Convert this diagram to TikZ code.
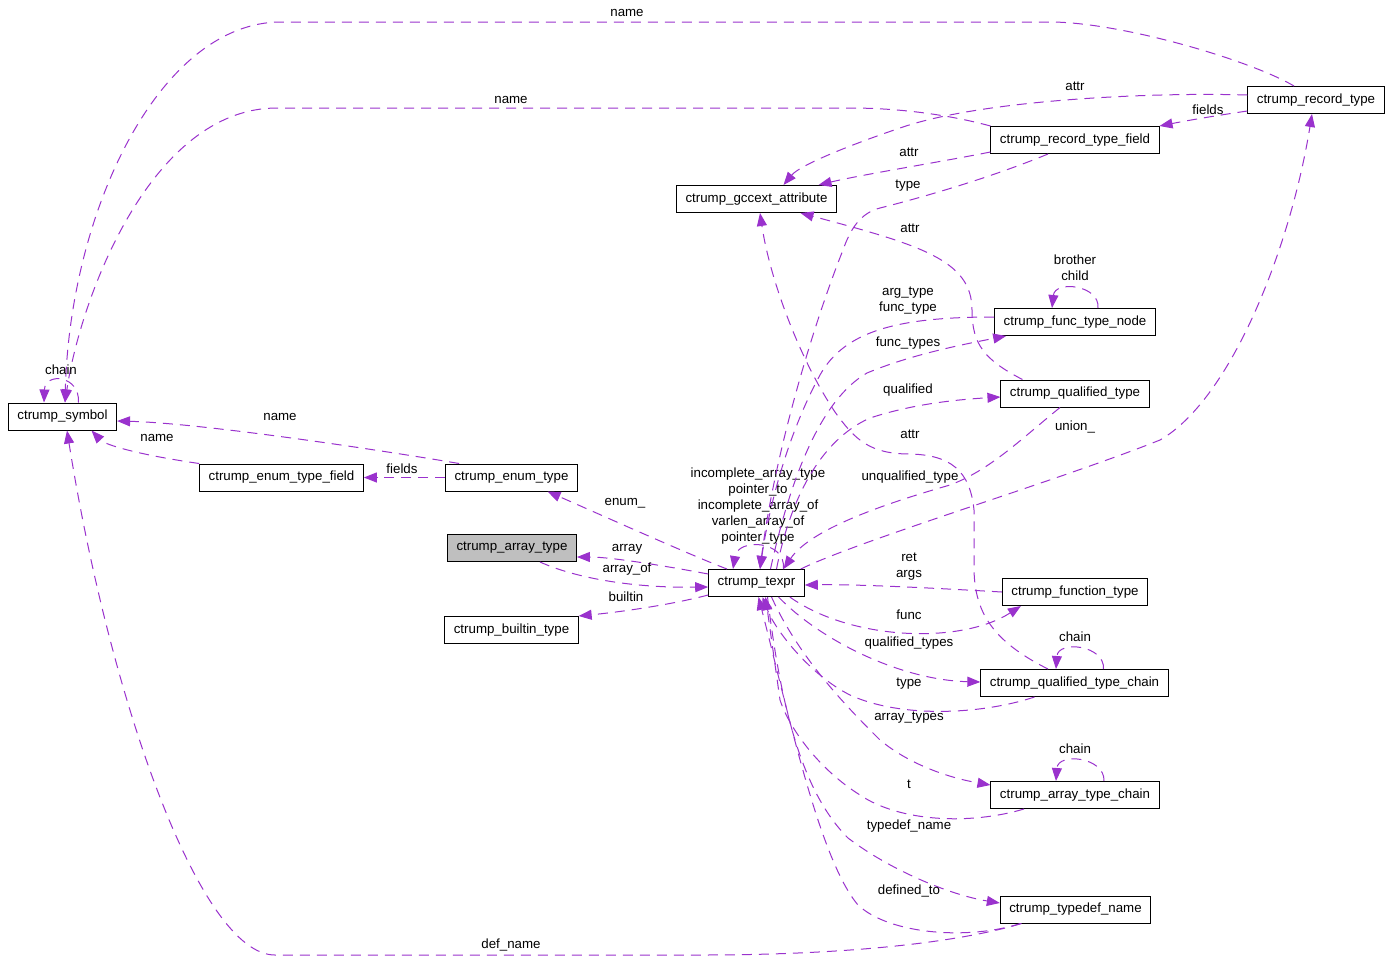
\documentclass[tikz,border=0pt]{standalone}
\usepackage{fontspec}
\setmainfont{Liberation Sans}
\usetikzlibrary{arrows.meta}
\definecolor{orchid}{HTML}{9A32CD}
\tikzstyle{cls} = [draw, rectangle, line width=1pt, minimum height=27pt, inner xsep=9pt, inner ysep=0pt, font=\fontsize{13.3}{16}\selectfont]
\tikzstyle{main} = [cls, fill=gray!50]
\tikzstyle{use} = [draw=orchid, line width=1pt, dash pattern=on 10pt off 7pt, ->]
\tikzstyle{lbl} = [align=center, inner sep=0pt, font=\fontsize{13.3}{16}\selectfont]

\begin{document}
\begin{tikzpicture}[x=1pt, y=-1pt, >={Triangle[length=13pt,width=10pt]}]
\useasboundingbox (0,0) rectangle (1389,959);

\node [cls] (sym) at (62.5,416.5) {ctrump\_symbol};
\node [cls] (rt) at (1316,100) {ctrump\_record\_type};
\node [cls] (rtf) at (1075,140) {ctrump\_record\_type\_field};
\node [cls] (gcc) at (756.5,199) {ctrump\_gccext\_attribute};
\node [cls] (ftn) at (1075,322) {ctrump\_func\_type\_node};
\node [cls] (qt) at (1075,393.5) {ctrump\_qualified\_type};
\node [cls] (eft) at (281.5,477.5) {ctrump\_enum\_type\_field};
\node [cls] (et) at (511.5,477.5) {ctrump\_enum\_type};
\node [main] (at) at (512,548) {ctrump\_array\_type};
\node [cls] (tx) at (756.5,583) {ctrump\_texpr};
\node [cls] (bt) at (511.5,630) {ctrump\_builtin\_type};
\node [cls] (ft) at (1075,592) {ctrump\_function\_type};
\node [cls] (qtc) at (1074.5,683) {ctrump\_qualified\_type\_chain};
\node [cls] (atc) at (1075,795) {ctrump\_array\_type\_chain};
\node [cls] (tdn) at (1075.5,909.5) {ctrump\_typedef\_name};

\draw [use] ([xshift=-22pt]rt.north) .. controls (1250,60) and (1120,22) .. (1050,22) -- (281,22) .. controls (160,22) and (70,210) .. ([xshift=2.5pt]sym.north) node [lbl] at (627,13) {name};
\draw [use] (rtf.north west) .. controls (950,115) and (900,108) .. (850,108) -- (277,108) .. controls (150,108) and (80,300) .. ([xshift=2.5pt]sym.north) node [lbl] at (511,100) {name};
\draw [use] ([xshift=16pt]sym.north) .. controls (80,375) and (45,372) .. ([xshift=-18.5pt]sym.north) node [lbl] at (61,370) {chain};
\draw [use] ([xshift=14pt]et.north west) .. controls (380,450) and (200,423) .. ([yshift=-4.5pt]sym.east) node [lbl] at (280,417) {name};
\draw [use] (eft.north west) .. controls (140,455) and (105,445) .. ([xshift=29pt]sym.south) node [lbl] at (157,438) {name};
\draw [use] ([xshift=-54pt]tdn.south) .. controls (960,942) and (850,955) .. (700,955) -- (275,955) .. controls (200,955) and (110,700) .. ([xshift=4.5pt]sym.south) node [lbl] at (511,945) {def\_name};
\draw [use] (et.west) -- (eft.east) node [lbl] at (402,469) {fields};

\draw [use] ([xshift=-29.5pt]tx.north) .. controls (690,555) and (590,510) .. ([xshift=36pt]et.south) node [lbl] at (625,503) {enum\_};
\draw [use] ([yshift=9pt]tx.west) .. controls (660,565) and (610,557) .. ([yshift=-9pt]at.east) node [lbl] at (627,549) {array};
\draw [use] ([xshift=28pt]at.south) .. controls (580,580) and (640,588) .. ([yshift=-4pt]tx.west) node [lbl] at (627,569) {array\_of};
\draw [use] ([yshift=-12pt]tx.west) .. controls (670,605) and (620,612) .. (bt.north east) node [lbl] at (626,597) {builtin};
\draw [use] ([xshift=27pt]tx.north) .. controls (786,540) and (738,538) .. ([xshift=-23.5pt]tx.north) node [lbl] at (758,506) {incomplete\_array\_type\\pointer\_to\\incomplete\_array\_of\\varlen\_array\_of\\pointer\_type};

\draw [use] ([yshift=5pt]rt.west) .. controls (1150,92) and (980,100) .. (900,128) .. controls (850,145) and (800,165) .. ([xshift=27pt]gcc.north) node [lbl] at (1075,86) {attr};
\draw [use] ([yshift=-11pt]rt.west) .. controls (1220,115) and (1190,120) .. (rtf.north east) node [lbl] at (1208,110) {fields};
\draw [use] ([yshift=-12pt]rtf.west) .. controls (940,162) and (860,175) .. ([xshift=62pt]gcc.north) node [lbl] at (909,152) {attr};
\draw [use] ([xshift=-27pt]rtf.south) .. controls (990,178) and (920,198) .. (880,208) .. controls (860,213) and (850,230) .. (843,250) .. controls (815,320) and (775,450) .. ([xshift=3.5pt]tx.north) node [lbl] at (908,186) {type};
\draw [use] ([xshift=22pt]qt.north west) .. controls (985,360) and (972,345) .. (972,310) .. controls (972,260) and (920,245) .. ([xshift=44pt]gcc.south) node [lbl] at (910,228) {attr};
\draw [use] ([yshift=5pt]ftn.west) .. controls (900,317) and (845,330) .. (820,375) .. controls (790,430) and (770,500) .. ([xshift=3.5pt]tx.north) node [lbl] at (908,301) {arg\_type\\func\_type};
\draw [use] ([xshift=14pt]tx.north) .. controls (790,480) and (820,400) .. (867,373) .. controls (910,355) and (960,345) .. ([xshift=12pt]ftn.south west) node [lbl] at (908,343) {func\_types};
\draw [use] ([xshift=20pt]tx.north) .. controls (790,500) and (820,440) .. (870,418) .. controls (910,405) and (950,400) .. ([yshift=-3.5pt]qt.west) node [lbl] at (908,390) {qualified};
\draw [use] ([xshift=-15pt]qt.south) .. controls (1020,440) and (990,470) .. (950,485) .. controls (880,505) and (810,530) .. ([xshift=27pt]tx.north) node [lbl] at (910,477) {unqualified\_type};
\draw [use] ([xshift=-4pt]tx.north east) .. controls (860,540) and (1060,480) .. (1160,440) .. controls (1230,400) and (1290,250) .. ([xshift=-4pt]rt.south) node [lbl] at (1075,427) {union\_};
\draw [use] ([xshift=-26.5pt]qtc.north) .. controls (990,640) and (975,610) .. (974,570) -- (974,510) .. controls (970,470) and (950,455) .. (910,454) .. controls (870,454) and (855,440) .. (835,412) .. controls (800,360) and (770,280) .. ([xshift=3.5pt]gcc.south) node [lbl] at (910,434) {attr};

\draw [use] (ft.west) .. controls (950,589) and (860,584) .. ([yshift=-2pt]tx.east) node [lbl] at (909,567) {ret\\args};
\draw [use] ([xshift=-15pt]tx.south east) .. controls (850,640) and (960,645) .. ([xshift=19pt]ft.south west) node [lbl] at (909,615) {func};
\draw [use] ([xshift=22pt]tx.south) .. controls (820,640) and (900,680) .. ([yshift=1pt]qtc.west) node [lbl] at (909,643) {qualified\_types};
\draw [use] ([xshift=-40pt]qtc.south) .. controls (980,715) and (900,718) .. (850,695) .. controls (810,675) and (775,630) .. ([xshift=6pt]tx.south) node [lbl] at (909,684) {type};
\draw [use] ([xshift=15pt]tx.south) .. controls (800,660) and (850,710) .. (880,740) .. controls (910,765) and (950,778) .. ([yshift=10pt]atc.west) node [lbl] at (909,718) {array\_types};
\draw [use] ([xshift=-51pt]atc.south) .. controls (970,825) and (900,822) .. (860,795) .. controls (820,770) and (790,730) .. (780,700) -- ([xshift=9pt]tx.south) node [lbl] at (909,784) {t};
\draw [use] ([xshift=11pt]tx.south) .. controls (780,700) and (800,790) .. (848,838) .. controls (890,870) and (950,895) .. ([yshift=6.5pt]tdn.west) node [lbl] at (909,826) {typedef\_name};
\draw [use] ([xshift=-55pt]tdn.south) .. controls (970,940) and (890,935) .. (858,905) .. controls (820,860) and (790,720) .. ([xshift=2pt]tx.south) node [lbl] at (909,891) {defined\_to};

\draw [use] ([xshift=23pt]ftn.north) .. controls (1100,285) and (1055,280) .. ([xshift=-23pt]ftn.north) node [lbl] at (1075,268) {brother\\child};
\draw [use] ([xshift=29pt]qtc.north) .. controls (1105,645) and (1058,640) .. ([xshift=-18.5pt]qtc.north) node [lbl] at (1075,637) {chain};
\draw [use] ([xshift=29pt]atc.north) .. controls (1105,757) and (1058,752) .. ([xshift=-19pt]atc.north) node [lbl] at (1075,749) {chain};

\end{tikzpicture}
\end{document}
